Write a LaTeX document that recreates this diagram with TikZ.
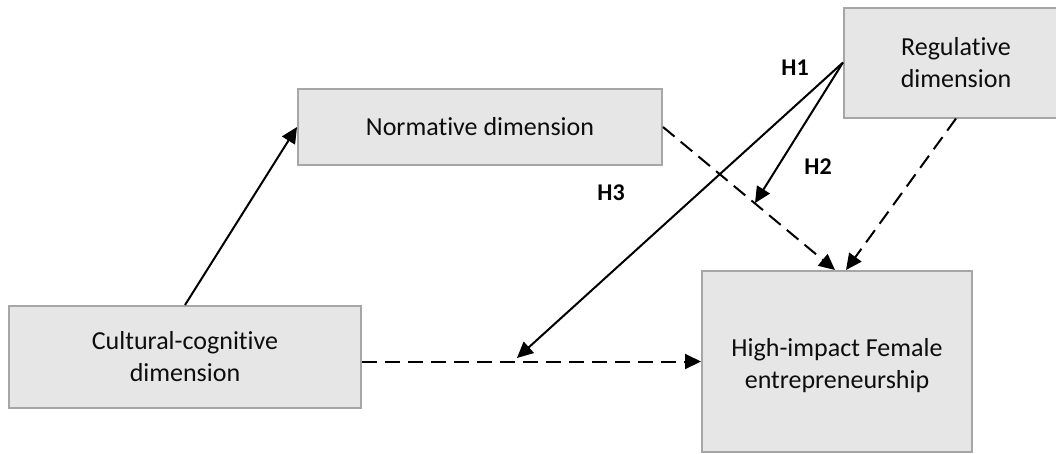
\documentclass[tikz,border=0pt]{standalone}
\usepackage{fontspec}
\setmainfont[Ligatures=NoCommon]{Carlito}
\usetikzlibrary{arrows.meta}
\definecolor{boxfill}{HTML}{E6E6E6}
\definecolor{boxline}{HTML}{A6A6A6}
\definecolor{ink}{HTML}{0D0D0D}
\begin{document}
\begin{tikzpicture}[x=1pt,y=-1pt,
  dimbox/.style={draw=boxline, fill=boxfill, line width=2pt, inner sep=0pt,
    align=center, text=ink, font=\fontsize{26}{32}\selectfont},
  link/.style={draw=black, line width=2pt,
    -{Triangle[length=16pt,width=15pt]}},
  dashlink/.style={link, dash pattern=on 15pt off 8pt},
  hyp/.style={font=\fontsize{24}{28}\selectfont\bfseries, text=black}
]
\useasboundingbox (0,0) rectangle (1056,453);

% the four institutional dimensions and the outcome
\node[dimbox, minimum width=364pt, minimum height=76pt] (norm) at (480,127) {Normative dimension};
\node[dimbox, minimum width=352pt, minimum height=102pt] (cult) at (185,357) {Cultural-cognitive\\dimension};
\node[dimbox, minimum width=224pt, minimum height=110pt] (reg) at (956,62.5) {Regulative\\dimension};
\node[dimbox, minimum width=270pt, minimum height=181pt] (high) at (837,361.5) {};
\node[align=center, text=ink, font=\fontsize{26}{32}\selectfont] (hightext) at (837,366) {High-impact Female\\entrepreneurship};

% moderation targets on the direct paths
\coordinate (m1) at (517,358);
\coordinate (m2) at (755,203);

% paths
\draw[link] (cult.north) -- (norm.west);
\draw[dashlink] (norm.east) -- ([xshift=-2pt]high.north);
\draw[dashlink] (reg.south) -- ([xshift=9pt]high.north);
\draw[dashlink] (cult.east |- high.west) -- (high.west);
\draw[link] (reg.west) -- (m1);
\draw[link] (reg.west) -- (m2);

% hypothesis labels
\node[hyp] (h1) at (795,68) {H1};
\node[hyp] (h2) at (818,167) {H2};
\node[hyp] (h3) at (611,193) {H3};
\end{tikzpicture}
\end{document}
